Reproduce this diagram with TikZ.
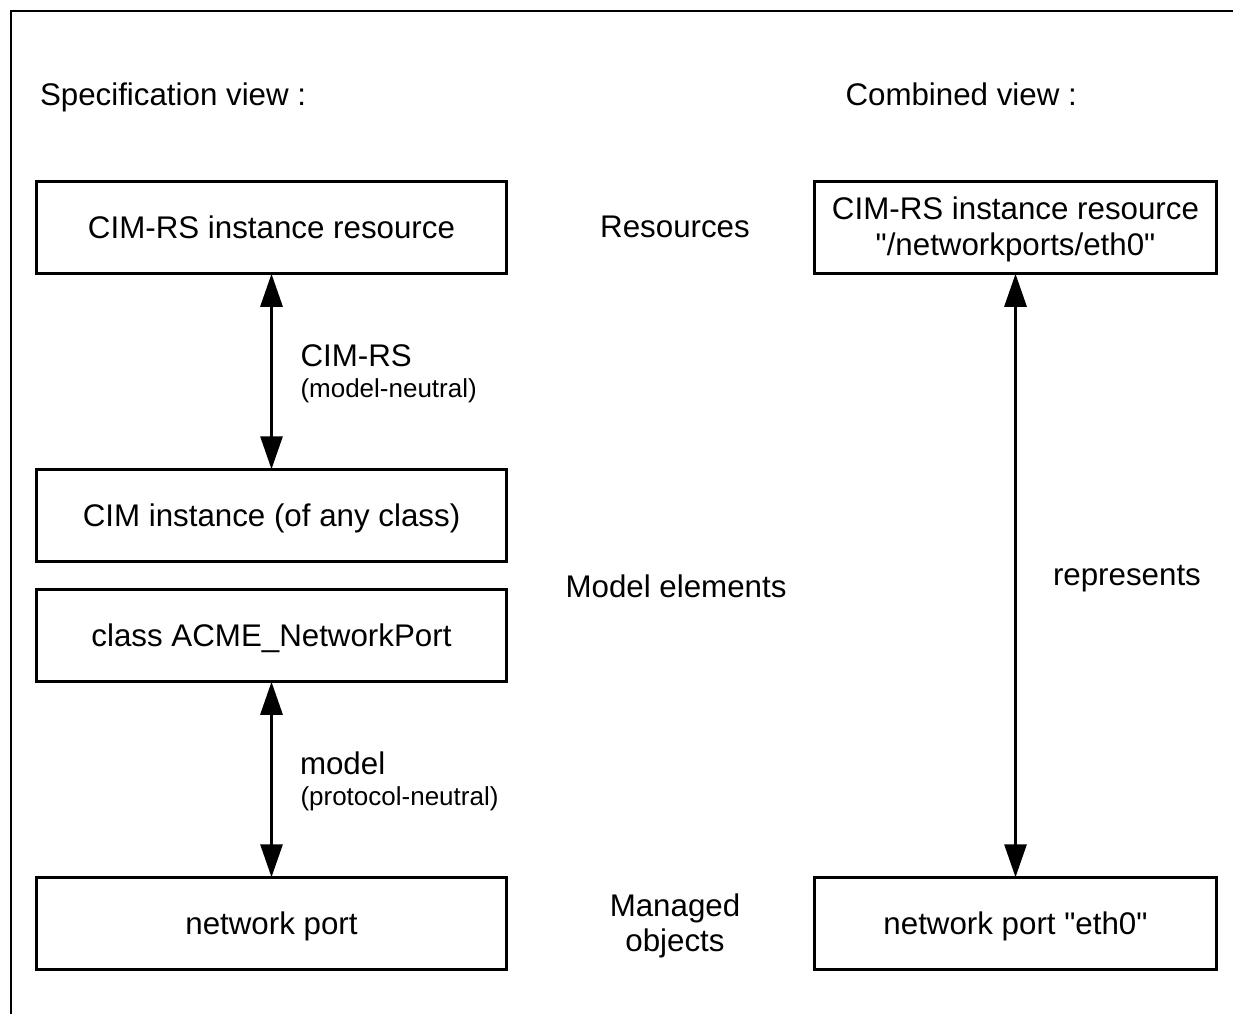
\documentclass[tikz,border=0pt]{standalone}
\usepackage{fontspec}
\setmainfont{Liberation Sans}[Ligatures=TeXOff]
\usetikzlibrary{arrows.meta}

\begin{document}
\begin{tikzpicture}[x=1pt, y=-1pt,
  every node/.style={inner sep=0pt, outer sep=0pt,
    font=\fontsize{31.3pt}{36pt}\selectfont},
  smallfont/.style={font=\fontsize{26pt}{30pt}\selectfont},
  box/.style={draw, line width=2.7pt, minimum height=92.5pt, align=center},
  leftbox/.style={box, minimum width=470.5pt},
  rightbox/.style={box, minimum width=402.5pt},
  oneline/.style={text height=22.4pt, text depth=0pt},
  link/.style={line width=3pt,
    {Triangle[length=33pt, width=22pt]}-{Triangle[length=33pt, width=22pt]}},
  frame/.style={line width=2pt}
]
\useasboundingbox (0,0) rectangle (1233,1013);
\clip (0,0) rectangle (1233,1013);

% surrounding frame (only its top and left sides fall on the page)
\draw[frame] (11,1030) -- (11,11) -- (1250,11);

% view headings
\node[anchor=base west] (spechead) at (40,105) {Specification view :};
\node[anchor=base west] (combhead) at (845.5,105) {Combined view :};

% specification view
\node[leftbox, oneline] (resource) at (271.5,227.5) {CIM-RS instance resource};
\node[leftbox, oneline] (instance) at (271.5,515.5) {CIM instance (of any class)};
\node[leftbox, oneline] (class)    at (271.5,635.5) {class ACME\_NetworkPort};
\node[leftbox, oneline] (port)     at (271.5,923.5) {network port};

\draw[link] (resource.south) -- (instance.north);
\draw[link] (class.south) -- (port.north);

\node[anchor=base west] (cimrs) at (300.5,366) {CIM-RS};
\node[anchor=base west, smallfont] (cimrsnote) at (300.5,397) {(model-neutral)};
\node[anchor=base west] (modellbl) at (300,774) {model};
\node[anchor=base west, smallfont] (modelnote) at (300.5,805) {(protocol-neutral)};

% layer names
\node[anchor=base] (reslayer) at (675,237) {Resources};
\node[anchor=base] (modlayer) at (676,597) {Model elements};
\node[align=center, text height=57.4pt, text depth=6.6pt,
      font=\fontsize{31.3pt}{35pt}\selectfont] (objlayer) at (675,925.6)
      {Managed\\objects};

% combined view
\node[rightbox, text height=55pt, text depth=0pt] (cres) at (1015.5,227.5)
      {CIM-RS instance resource\\"/networkports/eth0"};
\node[rightbox, oneline] (cport) at (1015.5,923.5) {network port "eth0"};

\draw[link] (cres.south) -- (cport.north);
\node[anchor=base west] (represents) at (1053,585) {represents};
\end{tikzpicture}
\end{document}
